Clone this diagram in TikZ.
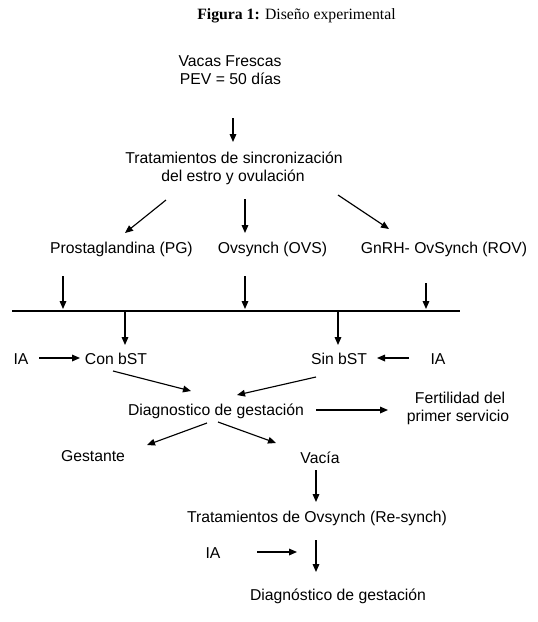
\documentclass[tikz,border=0pt]{standalone}
\usepackage{fontspec}
\setmainfont{Liberation Sans}
\newfontfamily\titlefont{Liberation Serif}
\usetikzlibrary{arrows.meta}
\begin{document}
\begin{tikzpicture}[x=0.75pt,y=-0.75pt,
  lbl/.style={inner sep=0pt,anchor=base,font=\fontsize{11.8}{14}\selectfont},
  arr/.style={line width=0.85pt,-{Triangle[length=6pt,width=5pt]}},
  ln/.style={line width=0.85pt}]
\fill[white] (0,0) rectangle (538,622);
\useasboundingbox (0,0) rectangle (538,622);
% title
\node[inner sep=0pt,anchor=base,font=\titlefont\fontsize{11.8}{14}\selectfont] (title) at (296.5,19) {\textbf{Figura 1:} Diseño experimental};
% text nodes
\node[lbl] (vacas1) at (230,66.5) {Vacas Frescas};
\node[lbl] (vacas2) at (230.5,84.5) {PEV = 50 días};
\node[lbl] (trat1) at (234,163.5) {Tratamientos de sincronización};
\node[lbl] (trat2) at (233,181.5) {del estro y ovulación};
\node[lbl] (pg) at (121.5,253.5) {Prostaglandina (PG)};
\node[lbl] (ovs) at (272.5,253.5) {Ovsynch (OVS)};
\node[lbl] (rov) at (444,253.5) {GnRH- OvSynch (ROV)};
\node[lbl] (ia1) at (21,364.5) {IA};
\node[lbl] (con) at (116,364.5) {Con bST};
\node[lbl] (sin) at (339,364.5) {Sin bST};
\node[lbl] (ia2) at (438,364.5) {IA};
\node[lbl] (diag) at (216,415.5) {Diagnostico de gestación};
\node[lbl] (fert1) at (460,403.5) {Fertilidad del};
\node[lbl] (fert2) at (458,421.5) {primer servicio};
\node[lbl] (gest) at (93,461.5) {Gestante};
\node[lbl] (vacia) at (320,463.5) {Vacía};
\node[lbl] (resync) at (317,522.5) {Tratamientos de Ovsynch (Re-synch)};
\node[lbl] (ia3) at (213,558.5) {IA};
\node[lbl] (diag2) at (338,600.5) {Diagnóstico de gestación};
% arrow endpoints
\coordinate (a1s) at (233,118); \coordinate (a1e) at (233,142);
\coordinate (a2s) at (166,200); \coordinate (a2e) at (125,233);
\coordinate (a3s) at (245,199); \coordinate (a3e) at (245,233);
\coordinate (a4s) at (338,195); \coordinate (a4e) at (389,229);
\coordinate (b1s) at (63,276);  \coordinate (b1e) at (63,309);
\coordinate (b2s) at (245,276); \coordinate (b2e) at (245,309);
\coordinate (b3s) at (426,283); \coordinate (b3e) at (426,309);
\coordinate (hl) at (12,311);   \coordinate (hr) at (460,311);
\coordinate (c1s) at (125,311); \coordinate (c1e) at (125,345);
\coordinate (c2s) at (338,311); \coordinate (c2e) at (338,345);
\coordinate (d1s) at (39,358);  \coordinate (d1e) at (80,358);
\coordinate (d2s) at (409,358); \coordinate (d2e) at (377,358);
\coordinate (e1s) at (113,371); \coordinate (e1e) at (191,391);
\coordinate (e2s) at (316,377); \coordinate (e2e) at (237,395);
\coordinate (f1s) at (316,410); \coordinate (f1e) at (388,410);
\coordinate (g1s) at (207,423); \coordinate (g1e) at (147,445);
\coordinate (g2s) at (218,422); \coordinate (g2e) at (276,443);
\coordinate (h1s) at (316,470); \coordinate (h1e) at (316,502);
\coordinate (i1s) at (257,552); \coordinate (i1e) at (297,552);
\coordinate (j1s) at (316,540); \coordinate (j1e) at (316,572);
% connectors
\draw[arr] (a1s) -- (a1e);
\draw[arr] (a2s) -- (a2e);
\draw[arr] (a3s) -- (a3e);
\draw[arr] (a4s) -- (a4e);
\draw[arr] (b1s) -- (b1e);
\draw[arr] (b2s) -- (b2e);
\draw[arr] (b3s) -- (b3e);
\draw[ln] (hl) -- (hr);
\draw[arr] (c1s) -- (c1e);
\draw[arr] (c2s) -- (c2e);
\draw[arr] (d1s) -- (d1e);
\draw[arr] (d2s) -- (d2e);
\draw[arr] (e1s) -- (e1e);
\draw[arr] (e2s) -- (e2e);
\draw[arr] (f1s) -- (f1e);
\draw[arr] (g1s) -- (g1e);
\draw[arr] (g2s) -- (g2e);
\draw[arr] (h1s) -- (h1e);
\draw[arr] (i1s) -- (i1e);
\draw[arr] (j1s) -- (j1e);
\end{tikzpicture}
\end{document}
